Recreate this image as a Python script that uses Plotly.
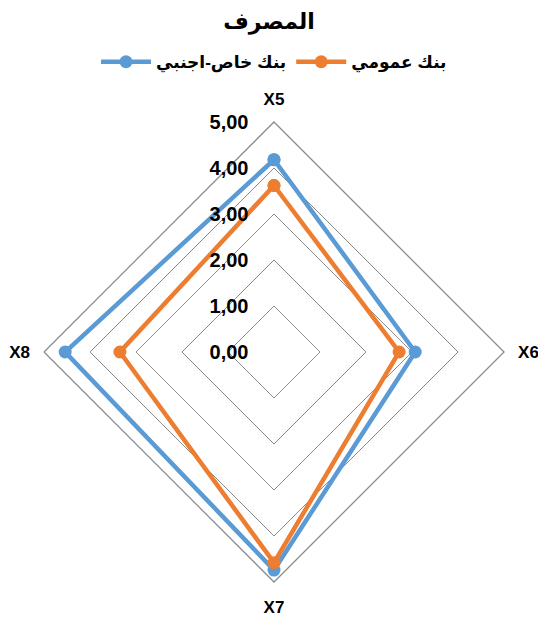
import plotly.graph_objects as go

categories = ["X5", "X6", "X7", "X8"]
private_foreign = [4.18, 3.07, 4.74, 4.54]
public_bank = [3.62, 2.72, 4.58, 3.35]
series_names = ["بنك خاص-اجنبي", "بنك عمومي"]
tick_vals = [0, 1, 2, 3, 4, 5]

fig = go.Figure()
for name, vals, color in [(series_names[0], private_foreign, "#5B9BD5"),
                          (series_names[1], public_bank, "#ED7D31")]:
    fig.add_trace(go.Scatterpolar(
        r=vals + vals[:1], theta=categories + categories[:1],
        mode="lines+markers", name=name,
        line=dict(color=color, width=4.5),
        marker=dict(color=color, size=13),
    ))

fig.update_layout(
    width=538, height=619,
    separators=", ",
    paper_bgcolor="white",
    font=dict(family="Liberation Sans, DejaVu Sans, sans-serif", color="black"),
    title=dict(text="<b>المصرف</b>", x=0.5, xanchor="center", y=0.978, yanchor="top",
               font=dict(size=22, color="black")),
    legend=dict(orientation="h", x=0.5, xanchor="center", y=1.13, yanchor="middle",
                font=dict(size=17, weight="bold"), itemwidth=50),
    margin=dict(l=44, r=34, t=122, b=37),
    polar=dict(
        bgcolor="white",
        gridshape="linear",
        angularaxis=dict(rotation=90, direction="clockwise", showgrid=False,
                         showline=True, linecolor="#8c8c8c", linewidth=1.3,
                         ticks="outside", ticklen=10, tickcolor="rgba(0,0,0,0)",
                         tickfont=dict(size=17, weight="bold")),
        radialaxis=dict(range=[0, 5], tickvals=tick_vals, tickformat=".2f",
                        angle=90, tickangle=90, side="counterclockwise", showline=False,
                        ticks="outside", ticklen=18, tickcolor="rgba(0,0,0,0)",
                        gridcolor="#8c8c8c", gridwidth=1.3,
                        tickfont=dict(size=20, weight="bold")),
    ),
)
fig.write_html("out.html")
